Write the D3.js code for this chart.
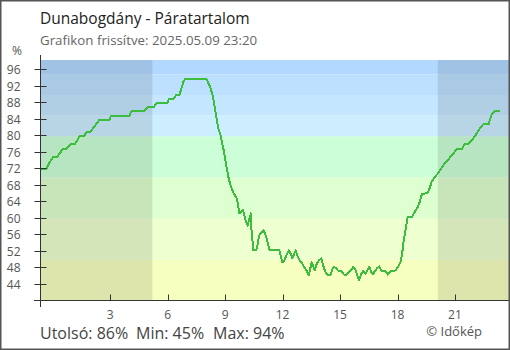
<!DOCTYPE html>
<html>
<head>
<meta charset="utf-8">
<script src="https://cdn.jsdelivr.net/npm/d3@7"></script>
<style>
  body { margin: 0; background: #fff; }
  svg { display: block; }
  text { font-family: "Open Sans", sans-serif; }
</style>
</head>
<body>
<svg id="chart" width="510" height="350"></svg>
<script>
// Relative humidity over the last 24 hours (hours relative to midnight, 05.09)
const hours = [
  -0.667, -0.34, -0.18, 0.03, 0.24, 0.39, 0.53, 0.74, 0.91, 1.14, 1.28, 1.40, 1.64, 1.75, 1.96,
  2.12, 2.27, 2.44, 2.96, 3.04, 4.01, 4.08, 4.74, 4.95, 5.26, 5.40, 5.98, 6.06, 6.30, 6.44, 6.62,
  6.74, 6.83, 6.93, 7.96, 8.04, 8.22, 8.35, 8.48, 8.57, 8.65, 8.74, 8.83, 8.91, 9.00, 9.09, 9.17,
  9.26, 9.35, 9.43, 9.52, 9.61, 9.66, 9.74, 9.83, 9.92, 9.99, 10.04, 10.13, 10.18, 10.23, 10.30,
  10.34, 10.38, 10.44, 10.47, 10.62, 10.68, 10.77, 10.88, 11.00, 11.09, 11.17, 11.26, 11.32, 11.83,
  11.90, 11.99, 12.08, 12.18, 12.32, 12.43, 12.51, 12.60, 12.69, 12.77, 12.87, 12.98, 13.08, 13.19,
  13.29, 13.36, 13.43, 13.52, 13.60, 13.68, 13.78, 13.89, 14.02, 14.13, 14.23, 14.33, 14.51, 14.62,
  14.68, 14.79, 14.89, 15.00, 15.10, 15.21, 15.35, 15.45, 15.59, 15.69, 15.80, 15.90, 15.99, 16.09,
  16.21, 16.32, 16.42, 16.53, 16.63, 16.73, 16.84, 16.94, 17.05, 17.15, 17.29, 17.40, 17.50, 17.61,
  17.71, 17.88, 17.99, 18.09, 18.18, 18.25, 18.30, 18.37, 18.44, 18.53, 18.74, 18.84, 18.95, 19.05,
  19.16, 19.22, 19.29, 19.57, 19.68, 19.78, 19.89, 19.99, 20.13, 20.27, 20.41, 20.54, 20.68, 20.82,
  20.96, 21.10, 21.38, 21.48, 21.69, 21.79, 21.94, 22.08, 22.21, 22.35, 22.49, 22.77, 22.84, 22.94,
  23.05, 23.33
];
const humidity = [
  72, 72, 73.5, 75, 75, 76, 77, 77, 78, 78, 79, 80, 80, 81, 81,
  82, 83, 84, 84, 85, 85, 86, 86, 87, 87, 88, 88, 89, 89, 90, 90,
  92, 93.3, 94, 94, 93.8, 91.9, 89.9, 86.3, 83.8, 81.8, 80.6, 78.6, 76.9, 74.5, 72.1, 70.1,
  68.4, 67.2, 66.3, 65.6, 64.8, 63.6, 61.3, 61.6, 62.1, 61.1, 59.9, 58.7, 58.3, 59.5, 60.3,
  61.3, 56.9, 53.9, 52.3, 52.3, 53.4, 55.9, 56.5, 57.1, 56.3, 55.1, 53.4, 52.3, 52.3,
  51, 49.4, 49.8, 50.9, 52.3, 51.4, 50.4, 51.4, 52.3, 51, 50, 49.4, 48.6, 47.8,
  47, 46.3, 47.6, 49.4, 48.4, 47.4, 49, 49.8, 50.4, 48.4, 47.1, 46.4, 46.4, 48,
  48.3, 48, 47.4, 47.4, 47, 46.4, 46.4, 47, 47.6, 48.3, 47.6, 46.3, 45, 46.4,
  47.4, 46.6, 47.4, 48.3, 47, 46.6, 47.4, 48, 48.4, 47.4, 47.4, 47, 46.4, 47,
  47.4, 47.4, 48, 48.8, 49.8, 51.8, 53.9, 55.9, 57.9, 60.3, 60.3, 61.1, 62, 62.8,
  64, 65.2, 66, 66.2, 67.4, 68.9, 69.7, 70.3, 71.1, 72.1, 73.1, 73.7, 74.5, 75.3,
  76.1, 76.9, 77, 78, 78, 78.6, 79.4, 80.3, 81.3, 82.2, 83, 83, 84.3, 85.5,
  86, 86
];

const yTicks = [44, 48, 52, 56, 60, 64, 68, 72, 76, 80, 84, 88, 92, 96];
const xTicks = [3, 6, 9, 12, 15, 18, 21];

// Humidity bands behind the curve
const bandEdges = [40, 50, 60, 70, 80, 85, 90, 95, 98.5];
const bandColors = ["#f7ffc0", "#eeffd0", "#deffcf", "#ccffd7", "#cdeeff", "#c4e7ff", "#bde0ff", "#b3d8ff"];

// Hours of darkness (before sunrise, after sunset)
const nightSpans = [[-0.667, 5.2], [20.1, 23.82]];

const title = "Dunabogdány - Páratartalom";
const subtitle = "Grafikon frissítve: 2025.05.09 23:20";

const svg = d3.select("#chart");
const W = 510, H = 350;
const plotLeft = 40, plotRight = 509, plotTop = 60, plotBottom = 301;

const x = d3.scaleLinear().domain([-0.667, 23.82]).range([plotLeft, plotRight]);
const y = d3.scaleLinear().domain([40, 98.5]).range([plotBottom, plotTop]);

// Bands
svg.append("g").selectAll("rect")
  .data(d3.range(bandColors.length))
  .join("rect")
  .attr("x", plotLeft)
  .attr("width", plotRight - plotLeft)
  .attr("y", i => y(bandEdges[i + 1]))
  .attr("height", i => y(bandEdges[i]) - y(bandEdges[i + 1]))
  .attr("fill", i => bandColors[i]);

// Night shading
svg.append("g").selectAll("rect")
  .data(nightSpans)
  .join("rect")
  .attr("x", d => x(d[0]))
  .attr("width", d => x(d[1]) - x(d[0]))
  .attr("y", plotTop)
  .attr("height", plotBottom - plotTop)
  .attr("fill", "#000")
  .attr("fill-opacity", 0.1);

// Curve
svg.append("defs").append("clipPath").attr("id", "plot")
  .append("rect").attr("x", plotLeft).attr("y", plotTop)
  .attr("width", plotRight - plotLeft).attr("height", plotBottom - plotTop);

const line = d3.line()
  .x((d, i) => x(hours[i]))
  .y(d => y(d));

svg.append("path")
  .attr("clip-path", "url(#plot)")
  .attr("d", line(humidity))
  .attr("fill", "none")
  .attr("stroke", "#3dbd3d")
  .attr("stroke-width", 2)
  .attr("stroke-linejoin", "round")
  .attr("shape-rendering", "crispEdges");

// Y axis
const gy = svg.append("g").attr("transform", `translate(${plotLeft + 0.5},0)`);
gy.append("line").attr("x1", 0).attr("x2", 0).attr("y1", 55).attr("y2", plotBottom + 6)
  .attr("stroke", "#333");
gy.selectAll("line.tick").data(yTicks).join("line").attr("class", "tick")
  .attr("x1", -6).attr("x2", 6)
  .attr("y1", d => Math.round(y(d)) - 0.5).attr("y2", d => Math.round(y(d)) - 0.5)
  .attr("stroke", "#333");
gy.selectAll("text").data(yTicks).join("text")
  .attr("x", -20)
  .attr("y", d => y(d))
  .attr("dy", "0.35em")
  .attr("text-anchor", "end")
  .attr("font-size", 12)
  .attr("fill", "#555")
  .text(d => d);

// X axis
const gx = svg.append("g").attr("transform", `translate(0,${plotBottom - 0.5})`);
gx.append("line").attr("x1", plotLeft - 6).attr("x2", plotRight).attr("y1", 0).attr("y2", 0).attr("stroke", "#333");
gx.selectAll("line.tick").data(xTicks).join("line").attr("class", "tick")
  .attr("x1", d => Math.round(x(d)) + 0.5).attr("x2", d => Math.round(x(d)) + 0.5)
  .attr("y1", -6).attr("y2", 0)
  .attr("stroke", "#333");
gx.selectAll("text").data(xTicks).join("text")
  .attr("x", d => x(d))
  .attr("y", 18.5)
  .attr("text-anchor", "middle")
  .attr("font-size", 12)
  .attr("fill", "#555")
  .text(d => d);

// Titles
svg.append("text").attr("x", 40).attr("y", 24).attr("font-size", 15.5).attr("fill", "#222").text(title);
svg.append("text").attr("x", 40).attr("y", 45).attr("font-size", 13.3).attr("fill", "#666").text(subtitle);
svg.append("text").attr("x", 12).attr("y", 55).attr("font-size", 12).attr("fill", "#555").text("%");

// Summary line: last reading, minimum, maximum
const last = Math.round(humidity[humidity.length - 1]);
const minV = Math.round(d3.min(humidity));
const maxV = Math.round(d3.max(humidity));
const summary = [[40, `Utolsó: ${last}%`], [136, `Min: ${minV}%`], [213, `Max: ${maxV}%`]];
svg.append("g").selectAll("text").data(summary).join("text")
  .attr("x", d => d[0]).attr("y", 339)
  .attr("font-size", 16).attr("fill", "#444")
  .text(d => d[1]);
svg.append("text").attr("x", 482).attr("y", 336).attr("text-anchor", "end")
  .attr("font-size", 13).attr("fill", "#555").text("© Időkép");

// Frame
svg.append("rect").attr("x", 0.75).attr("y", 0.75).attr("width", W - 1.5).attr("height", H - 1.5)
  .attr("fill", "none").attr("stroke", "#555").attr("stroke-width", 1.5);
</script>
</body>
</html>
